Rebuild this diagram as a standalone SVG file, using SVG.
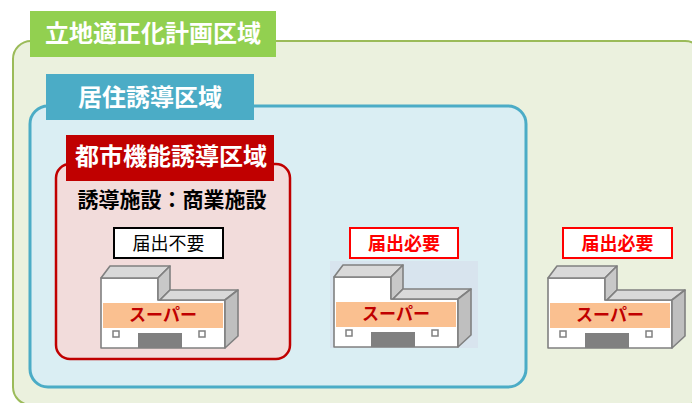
<svg xmlns="http://www.w3.org/2000/svg" xmlns:xlink="http://www.w3.org/1999/xlink" width="692" height="403" viewBox="0 0 692 403">
<style>
.lbl{font-family:"Noto Sans CJK JP","Noto Sans",sans-serif;font-weight:bold;fill:#fff;text-anchor:middle}
.t{font-family:"Noto Sans CJK JP","Noto Sans",sans-serif;text-anchor:middle}
.edge{stroke:#808080;stroke-width:1.6;stroke-linejoin:round}
</style>
<defs>
<g id="bldg">
<polygon class="edge" points="101,278 158,278 158,300 225,300 225,348 101,348" fill="#fff"/>
<polygon class="edge" points="101,278 110,266 170,266 158,278" fill="#d9d9d9"/>
<polygon class="edge" points="158,278 170,266 170,290 160,300 158,300" fill="#c8c8c8"/>
<polygon class="edge" points="160,300 170,290 238,290 225,300" fill="#d9d9d9"/>
<polygon class="edge" points="225,300 238,290 238,336 225,348" fill="#bfbfbf"/>
<rect x="103" y="303" width="120" height="25" fill="#fac090"/>
<text class="t" x="163" y="321" font-size="17" font-weight="bold" fill="#c00000">スーパー</text>
<rect x="113" y="331" width="6" height="6" fill="#fff" stroke="#808080" stroke-width="1.5"/>
<rect x="199" y="331" width="6" height="6" fill="#fff" stroke="#808080" stroke-width="1.5"/>
<rect x="138" y="333" width="44" height="15" fill="#808080"/>
</g>
</defs>
<rect width="692" height="403" fill="#fff"/>
<g id="zone-rikichi">
<rect x="13" y="41" width="690" height="364" rx="18" fill="#ebf1de" stroke="#9bbb59" stroke-width="2"/>
<rect x="30" y="11" width="246" height="46" fill="#92d050"/>
<text class="lbl" x="153" y="42" font-size="24">立地適正化計画区域</text>
</g>
<g id="zone-kyoju">
<rect x="30" y="106" width="496" height="281" rx="18" fill="#daeef3" stroke="#4bacc6" stroke-width="3"/>
<rect x="46" y="74" width="208" height="46" fill="#4bacc6"/>
<text class="lbl" x="150" y="106" font-size="24">居住誘導区域</text>
</g>
<g id="zone-toshikino">
<rect x="56" y="164" width="234" height="195" rx="14" fill="#f2dcdb" stroke="#c00000" stroke-width="2.5"/>
<rect x="66" y="135" width="208" height="46" fill="#c00000"/>
<text class="lbl" x="171" y="165" font-size="24">都市機能誘導区域</text>
<text class="t" x="172" y="207" font-size="21" font-weight="bold" fill="#000">誘導施設：商業施設</text>
</g>
<g id="store1">
<rect x="114" y="228" width="109" height="30" fill="#fff" stroke="#000" stroke-width="2"/>
<text class="t" x="168.5" y="250" font-size="18" fill="#000">届出不要</text>
<use xlink:href="#bldg"/>
</g>
<g id="store2">
<rect x="330" y="261" width="148" height="87" fill="#d8e4ee"/>
<rect x="350" y="228" width="108" height="30" fill="#fff" stroke="#ff0000" stroke-width="2"/>
<text class="t" x="404" y="250" font-size="18" font-weight="bold" fill="#ff0000">届出必要</text>
<use xlink:href="#bldg" transform="translate(233,-1)"/>
</g>
<g id="store3">
<rect x="563" y="228" width="109" height="30" fill="#fff" stroke="#ff0000" stroke-width="2"/>
<text class="t" x="617.5" y="250" font-size="18" font-weight="bold" fill="#ff0000">届出必要</text>
<use xlink:href="#bldg" transform="translate(447,0)"/>
</g>
<g id="connectors"/>
</svg>
